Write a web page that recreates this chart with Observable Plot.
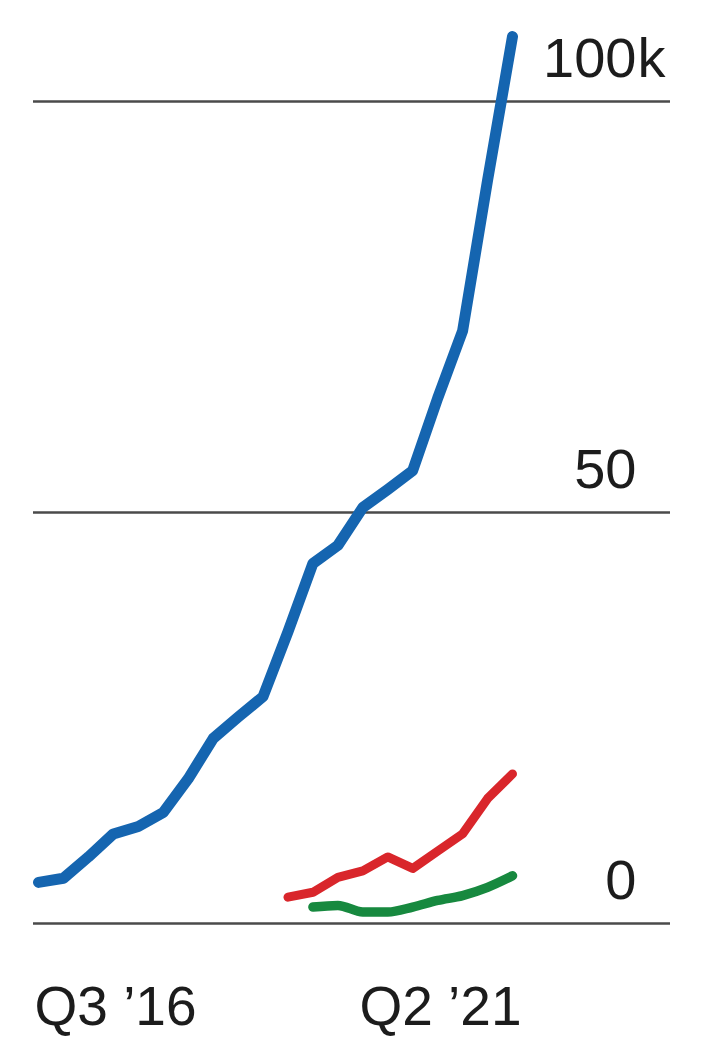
<!DOCTYPE html>
<html>
<head>
<meta charset="utf-8">
<script src="https://cdn.jsdelivr.net/npm/d3@7"></script>
<script src="https://cdn.jsdelivr.net/npm/@observablehq/plot@0.6"></script>
<style>
  html, body { margin: 0; padding: 0; background: #fff; }
  #chart svg { display: block; }
</style>
</head>
<body>
<div id="chart"></div>
<script>
// Quarters (categories)
const quarters = ["Q3 ’16","Q4 ’16","Q1 ’17","Q2 ’17","Q3 ’17","Q4 ’17","Q1 ’18","Q2 ’18","Q3 ’18","Q4 ’18",
                  "Q1 ’19","Q2 ’19","Q3 ’19","Q4 ’19","Q1 ’20","Q2 ’20","Q3 ’20","Q4 ’20","Q1 ’21","Q2 ’21"];
// Series values, thousands (null = no data)
const blueValues  = [5.0, 5.5, 8.1, 10.9, 11.8, 13.5, 17.6, 22.5, 25.1, 27.6, 35.5, 43.8, 46.0, 50.6, 52.8, 55.1, 63.9, 72.1, 90.4, 107.9];
const redValues   = [null, null, null, null, null, null, null, null, null, null, 3.2, 3.8, 5.6, 6.4, 8.1, 6.7, 8.8, 10.9, 15.2, 18.2];
const greenValues = [null, null, null, null, null, null, null, null, null, null, null, 2.0, 2.2, 1.4, 1.4, 2.0, 2.8, 3.4, 4.4, 5.8];
// Tick values and labels
const yTicks = [0, 50, 100];
const yTickLabels = ["0", "50", "100k"];
const xTicks = ["Q3 ’16", "Q2 ’21"];

const qi = (q) => quarters.indexOf(q);
const rows = (vals) => quarters.map((q, i) => ({i, v: vals[i]})).filter(d => d.v != null);

const font = "'Liberation Sans', Arial, Helvetica, sans-serif";
const textColor = "#1c1c1c";

const chart = Plot.plot({
  width: 715,
  height: 1037,
  marginLeft: 33,
  marginRight: 45,
  marginTop: 0,
  marginBottom: 13,
  style: {fontFamily: font, background: "#fff"},
  x: {type: "linear", domain: [0, quarters.length - 1], range: [38, 512], axis: null},
  y: {domain: [0, 100], range: [923, 101], axis: null},
  marks: [
    Plot.ruleY(yTicks, {stroke: "#4a4a4a", strokeWidth: 2.5}),
    Plot.text(yTicks, {
      y: d => d, text: (d, i) => yTickLabels[i].replace(/[^0-9.]+$/, ""),
      frameAnchor: "right", dx: -34, dy: -25, textAnchor: "end", lineAnchor: "bottom",
      fontSize: 56, fill: textColor, letterSpacing: "1px"
    }),
    Plot.text(yTicks, {
      y: d => d, text: (d, i) => (yTickLabels[i].match(/[^0-9.]+$/) || [""])[0],
      frameAnchor: "right", dx: -33, dy: -25, textAnchor: "start", lineAnchor: "bottom",
      fontSize: 56, fill: textColor
    }),
    Plot.text([xTicks[0]], {
      x: qi, text: d => d, frameAnchor: "bottom", textAnchor: "start", lineAnchor: "bottom",
      dx: -4, fontSize: 55, fill: textColor
    }),
    Plot.text([xTicks[1]], {
      x: qi, text: d => d, frameAnchor: "bottom", textAnchor: "end", lineAnchor: "bottom",
      dx: 9, fontSize: 55, fill: textColor
    }),
    Plot.line(rows(greenValues), {x: "i", y: "v", stroke: "#17893f", strokeWidth: 9.5, strokeLinejoin: "round", strokeLinecap: "round", curve: "monotone-x"}),
    Plot.line(rows(redValues), {x: "i", y: "v", stroke: "#d9262b", strokeWidth: 9, strokeLinejoin: "round", strokeLinecap: "round"}),
    Plot.line(rows(blueValues), {x: "i", y: "v", stroke: "#1565b0", strokeWidth: 11, strokeLinejoin: "round", strokeLinecap: "round"})
  ]
});
document.getElementById("chart").appendChild(chart);
</script>
</body>
</html>
